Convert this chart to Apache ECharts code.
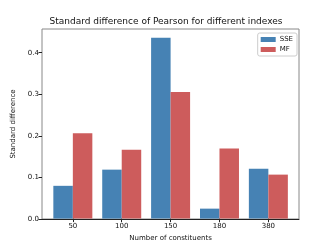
<!DOCTYPE html>
<html><head><meta charset="utf-8">
<script src="https://cdn.jsdelivr.net/npm/echarts@6/dist/echarts.min.js"></script>
<style>html,body{margin:0;padding:0;background:#fff}#c{width:332px;height:247px}</style>
</head><body><div id="c"></div>
<script>
const categories = ['50', '100', '150', '180', '380'];
const sseValues = [0.079, 0.118, 0.436, 0.024, 0.120];
const mfValues = [0.206, 0.166, 0.305, 0.169, 0.106];
const yTicks = [0, 0.1, 0.2, 0.3, 0.4];
const yMax = 0.457;

const font = 'DejaVu Sans';
const chart = echarts.init(document.getElementById('c'), null, {renderer: 'canvas'});
chart.setOption({
  animation: false,
  textStyle: {fontFamily: font},
  title: {
    text: 'Standard difference of Pearson for different indexes',
    left: 'center', top: 17, padding: 0,
    textStyle: {fontFamily: font, fontSize: 9, fontWeight: 'normal', color: '#111'}
  },
  legend: {
    orient: 'vertical', right: 35, top: 33,
    padding: [3, 4, 3, 3], itemGap: 3,
    itemWidth: 15, itemHeight: 5,
    borderColor: '#ccc', borderWidth: 1, borderRadius: 2,
    icon: 'rect',
    textStyle: {fontFamily: font, fontSize: 7, color: '#111', padding: [0, 0, 0, -1]},
    data: ['SSE', 'MF']
  },
  grid: [
    {left: 42, right: 33, top: 29, bottom: 28, show: true, borderColor: '#888', borderWidth: 1, backgroundColor: 'transparent'},
    {left: 48.4, right: 39.2, top: 29, bottom: 28}
  ],
  xAxis: [
    {gridIndex: 0, type: 'value', min: 0, max: 1, axisLabel: {show: false}, axisTick: {show: false}, splitLine: {show: false},
     axisLine: {show: true, lineStyle: {color: '#222', width: 1}}},
    {gridIndex: 1, type: 'category', data: categories,
     axisLine: {show: false},
     axisTick: {show: true, alignWithLabel: true, length: 3.5, lineStyle: {color: '#222'}},
     axisLabel: {fontFamily: font, fontSize: 7, color: '#111', margin: 4.5},
     name: 'Number of constituents', nameLocation: 'middle', nameGap: 16,
     nameTextStyle: {fontFamily: font, fontSize: 7, color: '#111'}}
  ],
  yAxis: [
    {gridIndex: 0, type: 'value', min: 0, max: yMax, interval: 0.1,
     axisLine: {show: false}, splitLine: {show: false},
     axisTick: {show: true, length: 3.5, lineStyle: {color: '#222'}, customValues: yTicks},
     axisLabel: {fontFamily: font, fontSize: 7, color: '#111', margin: 3, customValues: yTicks,
                 formatter: v => v.toFixed(1)},
     name: 'Standard difference', nameLocation: 'middle', nameGap: 17,
     nameTextStyle: {fontFamily: font, fontSize: 7, color: '#111'}},
    {gridIndex: 1, type: 'value', min: 0, max: yMax, show: false, splitLine: {show: false}}
  ],
  series: [
    {name: 'SSE', type: 'bar', xAxisIndex: 1, yAxisIndex: 1, data: sseValues,
     barWidth: 19.5, barGap: '0%', itemStyle: {color: '#4682b4', opacity: 1}},
    {name: 'MF', type: 'bar', xAxisIndex: 1, yAxisIndex: 1, data: mfValues,
     barWidth: 19.5, barGap: '0%', itemStyle: {color: '#cd5c5c', opacity: 1}}
  ]
});
</script></body></html>
